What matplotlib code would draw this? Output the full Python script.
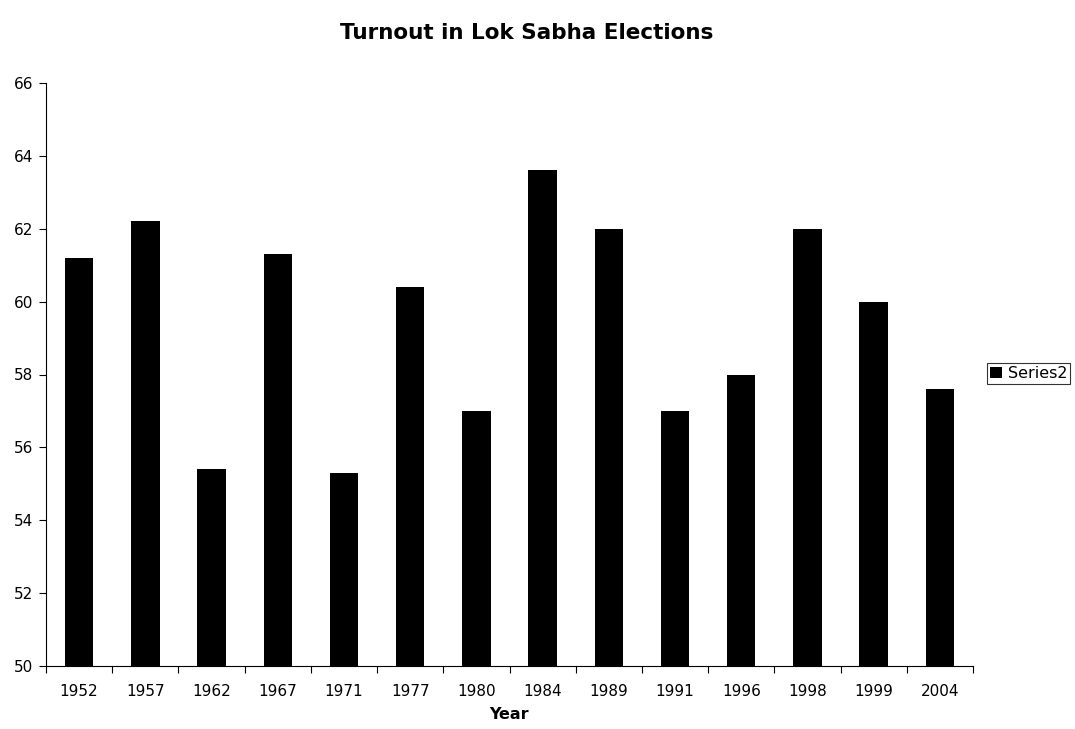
import matplotlib.pyplot as plt
import numpy as np
from matplotlib.ticker import FixedLocator, NullFormatter

# Voter turnout (%) per general election
years = ['1952', '1957', '1962', '1967', '1971', '1977', '1980',
         '1984', '1989', '1991', '1996', '1998', '1999', '2004']
turnout = [61.2, 62.2, 55.4, 61.3, 55.3, 60.4, 57.0,
           63.6, 62.0, 57.0, 58.0, 62.0, 60.0, 57.6]

plt.rcParams['font.family'] = 'DejaVu Sans'

fig = plt.figure(figsize=(10.75, 7.29), dpi=100)
ax = fig.add_axes([46/1075, 63/729, 927/1075, 583/729])

x = np.arange(len(years))
ax.bar(x, turnout, width=0.43, color='black', label='Series2')

ax.set_xlim(-0.5, len(years) - 0.5)
ax.set_ylim(50, 66)
ax.set_yticks(np.arange(50, 67, 2))
ax.set_xticks(x)
ax.set_xticklabels(years, fontsize=11)
ax.tick_params(axis='x', which='major', length=0, pad=13)
ax.xaxis.set_minor_locator(FixedLocator(np.arange(-0.5, len(years), 1.0)))
ax.xaxis.set_minor_formatter(NullFormatter())
ax.tick_params(axis='x', which='minor', length=5, width=0.8)
ax.tick_params(axis='y', length=5, width=0.8, labelsize=11, pad=4)

for side in ['top', 'right']:
    ax.spines[side].set_visible(False)

fig.text(527/1075, 1 - 33/729, 'Turnout in Lok Sabha Elections',
         fontsize=15.5, fontweight='bold', ha='center', va='center')
ax.set_xlabel('Year', fontsize=11.5, fontweight='bold', labelpad=6)

leg = fig.legend(loc='center left', bbox_to_anchor=(987/1075, 1 - 373.5/729),
                 fontsize=11.5, frameon=True, fancybox=False, edgecolor='black',
                 handlelength=0.75, handleheight=0.75, handletextpad=0.35,
                 borderpad=0.2, borderaxespad=0)
leg.get_frame().set_linewidth(0.8)

fig.savefig('out.png', dpi=100)
